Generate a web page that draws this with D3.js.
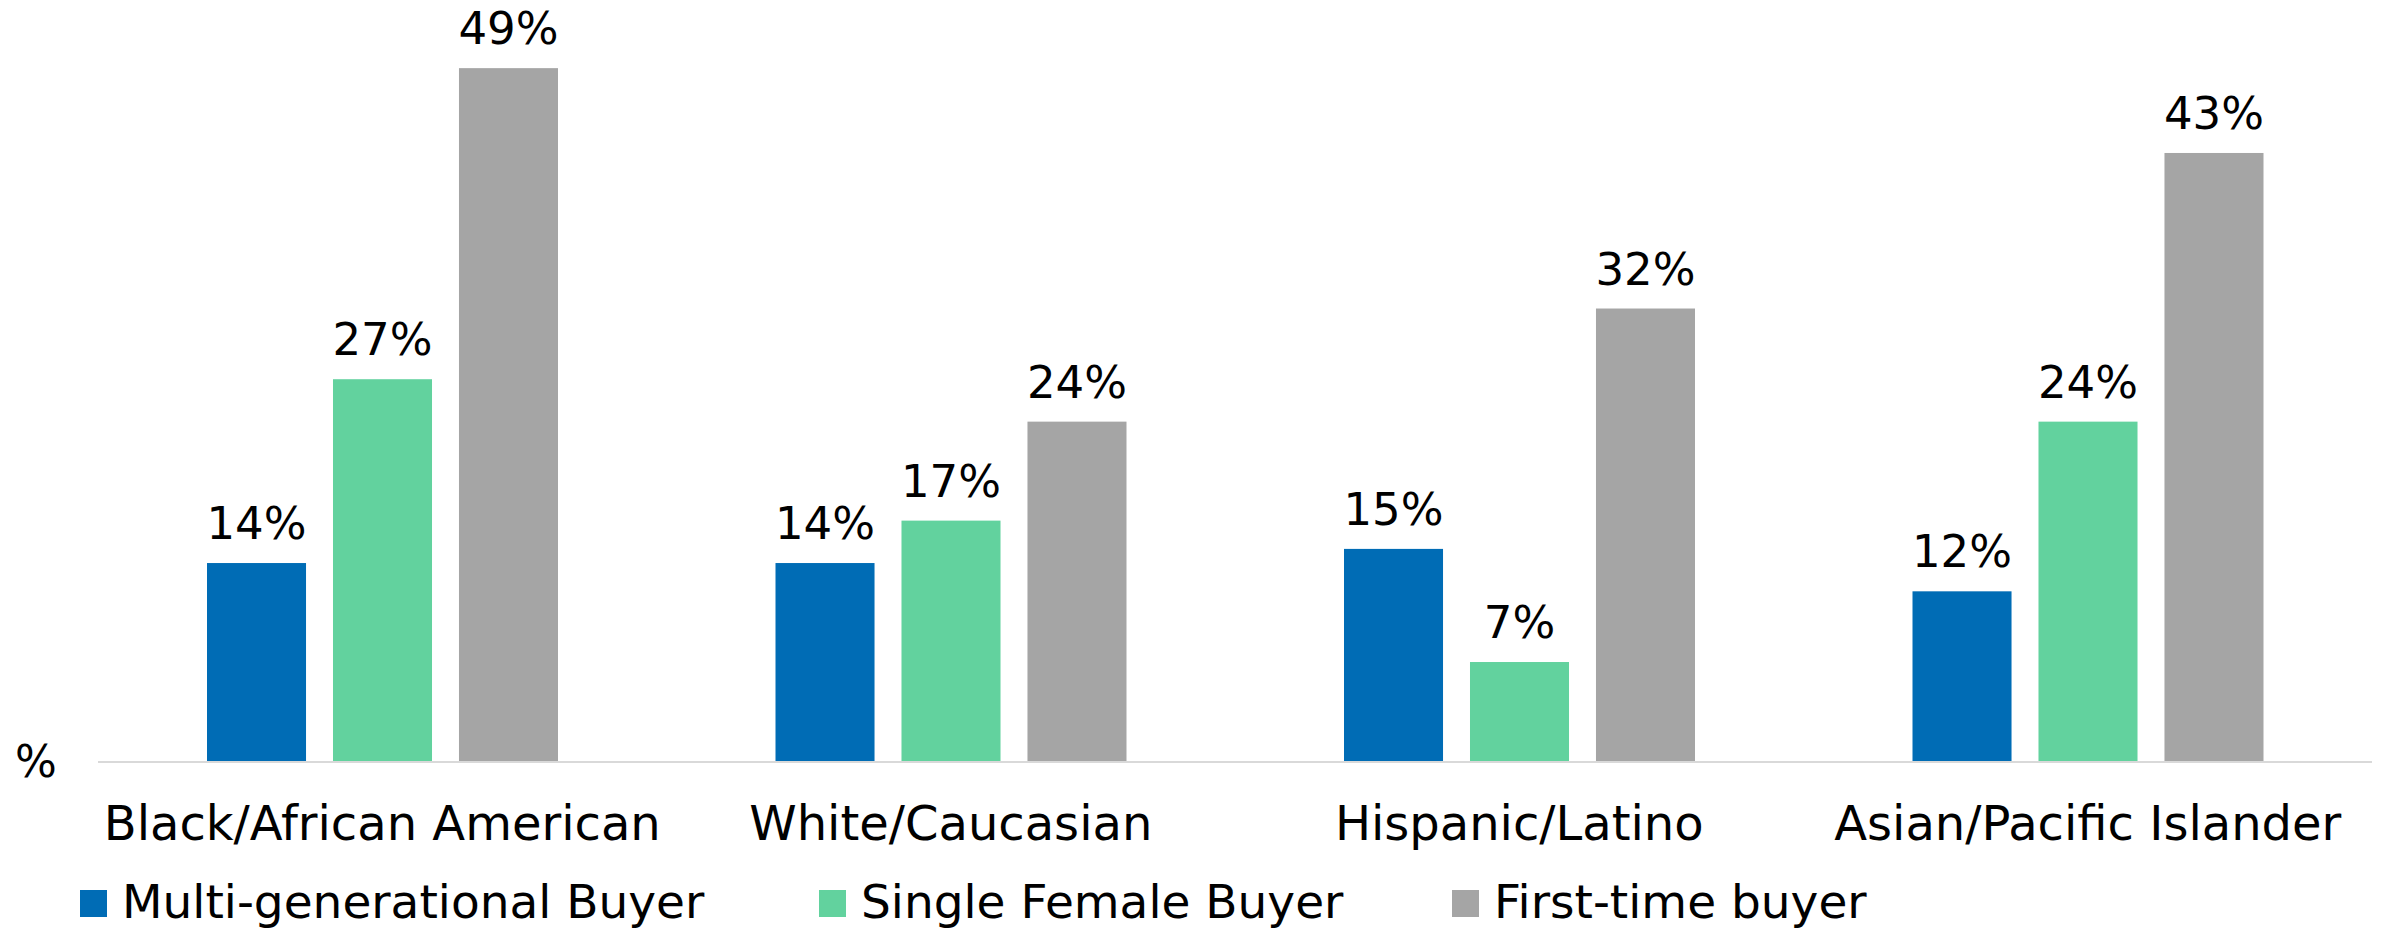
<!DOCTYPE html>
<html>
<head>
<meta charset="utf-8">
<script src="https://cdn.jsdelivr.net/npm/d3@7"></script>
<style>
  body { margin: 0; background: #fff; }
  svg { display: block; }
</style>
</head>
<body>
<script>
// data
var categories = ["Black/African American", "White/Caucasian", "Hispanic/Latino", "Asian/Pacific Islander"];
var seriesNames = ["Multi-generational Buyer", "Single Female Buyer", "First-time buyer"];
var multiGen = [14, 14, 15, 12];
var singleFemale = [27, 17, 7, 24];
var firstTime = [49, 24, 32, 43];
var colors = ["#006cb5", "#62d29e", "#a5a5a5"];

var W = 2389, H = 931;
var font = "DejaVu Sans";

var svg = d3.select("body").append("svg")
    .attr("width", W)
    .attr("height", H);

var x0 = d3.scaleBand()
    .domain(categories)
    .range([98, 2372])
    .padding(0);

var x1 = d3.scaleBand()
    .domain(seriesNames)
    .range([109, 460])
    .paddingInner(0.214)
    .paddingOuter(0);

var y = d3.scaleLinear()
    .domain([0, 50])
    .range([761, 54]);

var seriesVals = [multiGen, singleFemale, firstTime];
var rows = [];
categories.forEach(function (c, i) {
  seriesNames.forEach(function (s, j) {
    rows.push({ cat: c, series: s, value: seriesVals[j][i], color: colors[j] });
  });
});

// bars
svg.append("g").selectAll("rect")
    .data(rows)
  .enter().append("rect")
    .attr("x", d => x0(d.cat) + x1(d.series))
    .attr("y", d => y(d.value))
    .attr("width", x1.bandwidth())
    .attr("height", d => y(0) - y(d.value))
    .attr("fill", d => d.color);

// value labels
svg.append("g").selectAll("text")
    .data(rows)
  .enter().append("text")
    .attr("x", d => x0(d.cat) + x1(d.series) + x1.bandwidth() / 2)
    .attr("y", d => y(d.value) - 24)
    .attr("text-anchor", "middle")
    .attr("font-family", font)
    .attr("font-size", 45)
    .attr("fill", "#000")
    .text(d => d.value + "%");

// baseline
svg.append("line")
    .attr("x1", x0.range()[0])
    .attr("x2", x0.range()[1])
    .attr("y1", y(0) + 1)
    .attr("y2", y(0) + 1)
    .attr("stroke", "#d9d9d9")
    .attr("stroke-width", 2);

// category labels
var xAxis = svg.append("g")
    .attr("transform", "translate(0," + y(0) + ")")
    .call(d3.axisBottom(x0).tickSize(0).tickPadding(0));
xAxis.select(".domain").remove();
xAxis.selectAll("text")
    .attr("dy", null)
    .attr("y", 79)
    .attr("font-family", font)
    .attr("font-size", 48)
    .attr("fill", "#000");

// "%" axis title
svg.append("text")
    .attr("x", 15)
    .attr("y", 777)
    .attr("font-family", font)
    .attr("font-size", 44)
    .attr("fill", "#000")
    .text("%");

// legend
var legendX = d3.scaleOrdinal().domain(seriesNames).range([80, 819, 1452]);
var item = svg.append("g").selectAll("g")
    .data(seriesNames)
  .enter().append("g")
    .attr("transform", d => "translate(" + legendX(d) + ",0)");
item.append("rect")
    .attr("y", 890)
    .attr("width", 27)
    .attr("height", 27)
    .attr("fill", (d, j) => colors[j]);
item.append("text")
    .attr("x", 42)
    .attr("y", 918)
    .attr("font-family", font)
    .attr("font-size", 47)
    .attr("fill", "#000")
    .text(d => d);
</script>
</body>
</html>
